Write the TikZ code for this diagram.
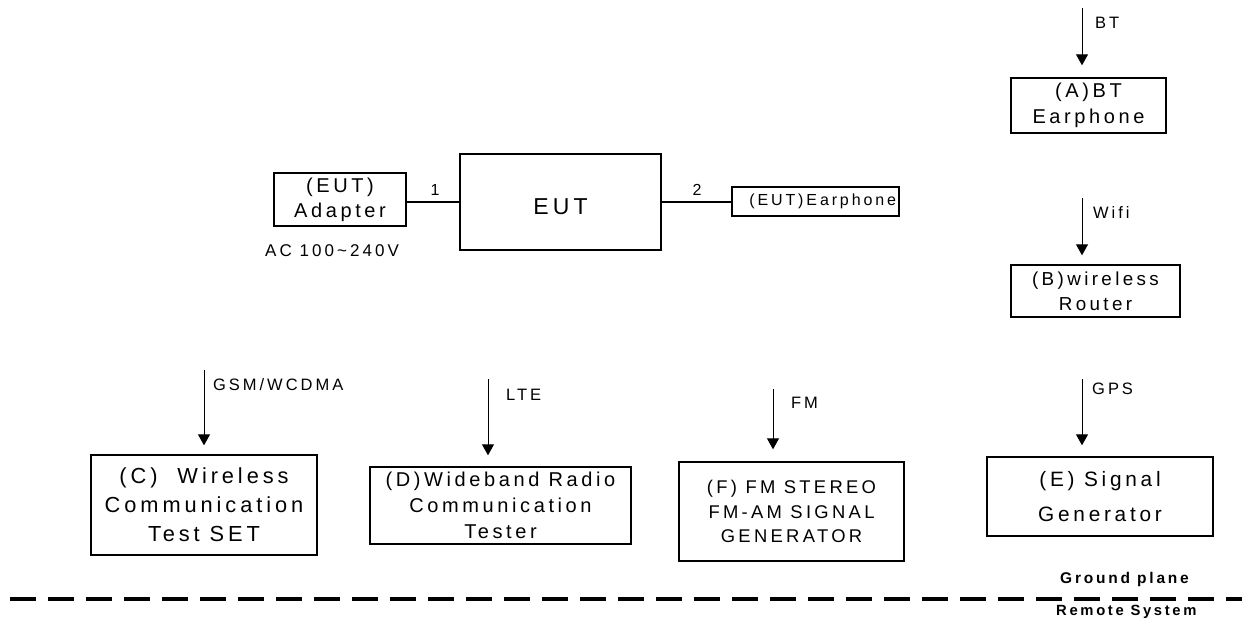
\documentclass[tikz,border=0pt]{standalone}
\usepackage{fontspec}
\setmainfont{Liberation Sans}[LetterSpace=18]
\usepackage{tikz}
\usetikzlibrary{arrows.meta}
\tikzstyle{unit} = [draw, line width=1.4pt, inner sep=0pt, align=center]
\tikzstyle{link} = [draw, line width=1.3pt]
\tikzstyle{sig} = [draw, line width=1pt, -{Triangle[width=12pt,length=11pt]}]
\tikzstyle{lbl} = [anchor=base west, inner sep=0pt, font=\fontsize{16.5}{20}\selectfont]
\tikzstyle{gnd} = [anchor=base west, inner sep=0pt, font=\fontsize{15.5}{18}\selectfont\bfseries]

\begin{document}
\begin{tikzpicture}[x=1pt,y=-1pt]
\useasboundingbox (0,0) rectangle (1242,625);
% EUT and its cabling
\node[unit, minimum width=132pt, minimum height=53pt, font=\fontsize{20}{25}\selectfont] (adapter) at (340,199.5) {(EUT)\\Adapter};
\node[unit, minimum width=201pt, minimum height=96pt, text height=26pt, font=\fontsize{23}{28}\selectfont] (eut) at (560.5,202) {EUT};
\node[unit, minimum height=29pt, inner xsep=3pt, text width=161pt, align=right, font=\fontsize{16}{20}\selectfont] (earph) at (815.5,201.5) {(EUT)Earphone};
\draw[link] (eut.west) -- (eut.west -| adapter.east);
\draw[link] (eut.east) -- (eut.east -| earph.west);
\node[anchor=base, inner sep=0pt, font=\fontsize{16}{18}\selectfont] (cab1) at (435,195) {1};
\node[anchor=base, inner sep=0pt, font=\fontsize{16}{18}\selectfont] (cab2) at (697,195) {2};
\node[anchor=base west, inner sep=0pt, font=\fontsize{17}{20}\selectfont] (acin) at (265,256) {AC 100\textasciitilde 240V};
%
% support units
\node[unit, minimum width=155pt, minimum height=55pt, font=\fontsize{20}{26}\selectfont] (btA) at (1088.5,105.5) {(A)BT\\Earphone};
\node[unit, minimum width=169pt, minimum height=52pt, font=\fontsize{18.8}{25}\selectfont] (rtB) at (1095.5,291) {(B)wireless\\Router};
\node[unit, minimum width=226pt, minimum height=100pt, font=\fontsize{21.8}{29}\selectfont] (gsmC) at (204,505) {(C) \ Wireless\\Communication\\Test SET};
\node[unit, minimum width=261pt, minimum height=77pt, font=\fontsize{20}{26}\selectfont] (lteD) at (500.5,505.5) {(D)Wideband Radio\\Communication\\Tester};
\node[unit, minimum width=225pt, minimum height=99pt, font=\fontsize{18.4}{24.5}\selectfont] (fmF) at (791.5,511.5) {(F) FM STEREO\\FM-AM SIGNAL\\GENERATOR};
\node[unit, minimum width=226pt, minimum height=79pt, font=\fontsize{20.8}{37}\selectfont] (gpsE) at (1100,496.5) {(E) Signal\\[-2pt]Generator};
%
% radio links
\coordinate (btsrc) at (1082,8);
\coordinate (wifisrc) at (1082,198);
\coordinate (gsmsrc) at (204,370);
\coordinate (ltesrc) at (488,379);
\coordinate (fmsrc) at (773,389);
\coordinate (gpssrc) at (1082,379);
\draw[sig, shorten >=12pt] (btsrc) -- (btsrc |- btA.north);
\draw[sig, shorten >=9pt] (wifisrc) -- (wifisrc |- rtB.north);
\draw[sig, shorten >=9pt] (gsmsrc) -- (gsmsrc |- gsmC.north);
\draw[sig, shorten >=11pt] (ltesrc) -- (ltesrc |- lteD.north);
\draw[sig, shorten >=12pt] (fmsrc) -- (fmsrc |- fmF.north);
\draw[sig, shorten >=11pt] (gpssrc) -- (gpssrc |- gpsE.north);
\node[lbl] (btlbl) at (1095,28) {BT};
\node[lbl] (wifilbl) at (1093,218) {Wifi};
\node[lbl] (gsmlbl) at (213,390) {GSM/WCDMA};
\node[lbl] (ltelbl) at (506,400) {LTE};
\node[lbl] (fmlbl) at (791,408) {FM};
\node[lbl] (gpslbl) at (1092,394) {GPS};
%
% ground plane
\coordinate (gndL) at (10,599);
\coordinate (gndR) at (1242,599);
\draw[line width=3.5pt, dash pattern=on 26pt off 12pt] (gndL) -- (gndR);
\node[gnd] (gndtxt) at (1060,583) {Ground plane};
\node[gnd, font=\fontsize{14.8}{18}\selectfont\bfseries] (remtxt) at (1056,615) {Remote System};
\end{tikzpicture}
\end{document}
